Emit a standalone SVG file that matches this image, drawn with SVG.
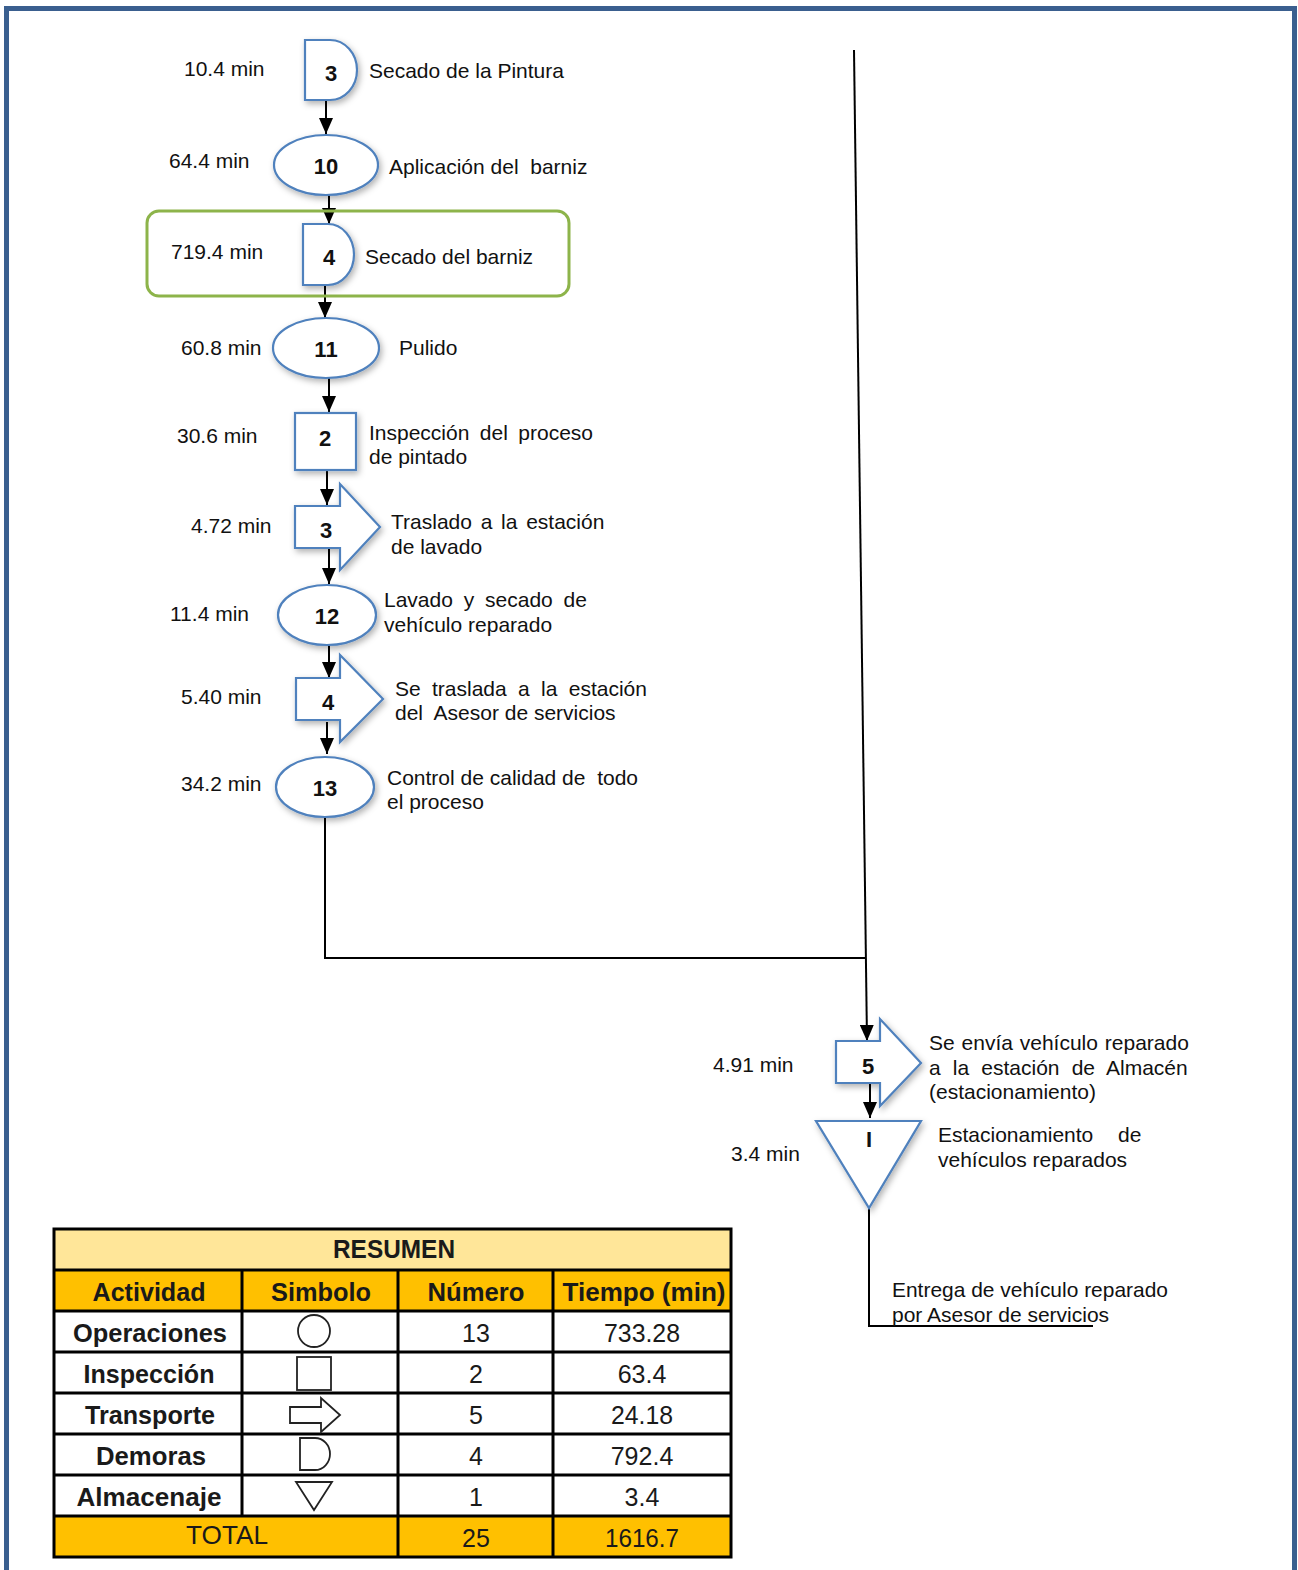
<svg xmlns="http://www.w3.org/2000/svg" width="1298" height="1570" viewBox="0 0 1298 1570">
<defs>
<style>
.t{font-family:"Liberation Sans",Arial,sans-serif;font-size:21px;fill:#111}
.n{font-family:"Liberation Sans",Arial,sans-serif;font-size:22px;font-weight:bold;fill:#111;text-anchor:middle}
.sh{fill:#fff;stroke:#4f81bd;stroke-width:2.2;filter:url(#ds)}
.c{fill:none;stroke:#000;stroke-width:2}
.tb{font-family:"Liberation Sans Narrow","Liberation Sans",Arial,sans-serif;font-size:25px;fill:#1a1a1a;text-anchor:middle}
.b{font-weight:bold}
.gl{fill:none;stroke:#000;stroke-width:3}
.sy{fill:none;stroke:#222;stroke-width:1.8}
</style>
<filter id="ds" x="-30%" y="-30%" width="160%" height="160%">
<feDropShadow dx="2" dy="3" stdDeviation="3" flood-color="#000" flood-opacity="0.3"/>
</filter>
<marker id="ah" markerUnits="userSpaceOnUse" markerWidth="16" markerHeight="14" refX="16" refY="7" orient="auto">
<path d="M0,0 L16,7 L0,14 z" fill="#000"/>
</marker>
</defs>
<rect width="1298" height="1570" fill="#fff"/>
<path d="M6.5,1570 V8.5 H1294.5 V1570" fill="none" stroke="#3a5f8f" stroke-width="5"/>

<g id="connectors">
<line class="c" x1="326" y1="100" x2="326" y2="134" marker-end="url(#ah)"/>
<line class="c" x1="329" y1="195" x2="329" y2="224" marker-end="url(#ah)"/>
<line class="c" x1="325" y1="285" x2="325" y2="318" marker-end="url(#ah)"/>
<line class="c" x1="329" y1="378" x2="329" y2="412" marker-end="url(#ah)"/>
<line class="c" x1="327" y1="470" x2="327" y2="505" marker-end="url(#ah)"/>
<line class="c" x1="329" y1="548" x2="329" y2="584" marker-end="url(#ah)"/>
<line class="c" x1="329" y1="645" x2="329" y2="678" marker-end="url(#ah)"/>
<line class="c" x1="327" y1="722" x2="327" y2="754" marker-end="url(#ah)"/>
<polyline class="c" points="325,817 325,958 865,958"/>
<line class="c" x1="854" y1="50" x2="867" y2="1041" marker-end="url(#ah)"/>
<line class="c" x1="870" y1="1083" x2="870" y2="1118" marker-end="url(#ah)"/>
<polyline class="c" points="869,1208 869,1326 1093,1326"/>
</g>

<g id="green-highlight">
<rect x="147" y="211" width="422" height="85" rx="12" fill="none" stroke="#8db44a" stroke-width="3"/>
</g>

<g id="delay3">
<path class="sh" d="M305,40 H330 A27,30 0 0 1 330,100 H305 Z"/>
<text class="n" x="331" y="81">3</text>
<text class="t" x="184" y="76">10.4 min</text>
<text class="t" x="369" y="78">Secado de la Pintura</text>
</g>

<g id="op10">
<ellipse class="sh" cx="326" cy="165" rx="52" ry="30"/>
<text class="n" x="326" y="174">10</text>
<text class="t" x="169" y="168">64.4 min</text>
<text class="t" x="389" y="174" xml:space="preserve">Aplicación del  barniz</text>
</g>

<g id="delay4">
<path class="sh" d="M303,224 H328 A26,30.5 0 0 1 328,285 H303 Z"/>
<text class="n" x="329" y="265">4</text>
<text class="t" x="171" y="259">719.4 min</text>
<text class="t" x="365" y="264">Secado del barniz</text>
</g>

<g id="op11">
<ellipse class="sh" cx="326" cy="348" rx="53" ry="30"/>
<text class="n" x="326" y="357">11</text>
<text class="t" x="181" y="355">60.8 min</text>
<text class="t" x="399" y="355">Pulido</text>
</g>

<g id="insp2">
<rect class="sh" x="295" y="413" width="61" height="57"/>
<text class="n" x="325" y="446">2</text>
<text class="t" x="177" y="443">30.6 min</text>
<text class="t" x="369" y="440" style="word-spacing:4.6px">Inspección del proceso</text>
<text class="t" x="369" y="464">de pintado</text>
</g>

<g id="trans3">
<path class="sh" d="M295,506 H340 V484 L380,527 L340,570 V548 H295 Z"/>
<text class="n" x="326" y="538">3</text>
<text class="t" x="191" y="533">4.72 min</text>
<text class="t" x="391" y="529" style="word-spacing:2.9px">Traslado a la estación</text>
<text class="t" x="391" y="554">de lavado</text>
</g>

<g id="op12">
<ellipse class="sh" cx="327" cy="615" rx="49" ry="30"/>
<text class="n" x="327" y="624">12</text>
<text class="t" x="170" y="621">11.4 min</text>
<text class="t" x="384" y="607" style="word-spacing:5px">Lavado y secado de</text>
<text class="t" x="384" y="632">vehículo reparado</text>
</g>

<g id="trans4">
<path class="sh" d="M296,678 H340 V655 L383,699 L340,742 V720 H296 Z"/>
<text class="n" x="328" y="710">4</text>
<text class="t" x="181" y="704">5.40 min</text>
<text class="t" x="395" y="696" style="word-spacing:5.5px">Se traslada a la estación</text>
<text class="t" x="395" y="720" xml:space="preserve">del  Asesor de servicios</text>
</g>

<g id="op13">
<ellipse class="sh" cx="325" cy="787" rx="49" ry="30"/>
<text class="n" x="325" y="796">13</text>
<text class="t" x="181" y="791">34.2 min</text>
<text class="t" x="387" y="785" xml:space="preserve">Control de calidad de  todo</text>
<text class="t" x="387" y="809">el proceso</text>
</g>

<g id="trans5">
<path class="sh" d="M836,1041 H880 V1019 L921,1063 L880,1106 V1083 H836 Z"/>
<text class="n" x="868" y="1074">5</text>
<text class="t" x="713" y="1072">4.91 min</text>
<text class="t" x="929" y="1050" style="word-spacing:1px">Se envía vehículo reparado</text>
<text class="t" x="929" y="1075" style="word-spacing:6.3px">a la estación de Almacén</text>
<text class="t" x="929" y="1099">(estacionamiento)</text>
</g>

<g id="storage1">
<path class="sh" d="M816,1121 H921 L869,1208 Z"/>
<text class="n" x="869" y="1147">I</text>
<text class="t" x="731" y="1161">3.4 min</text>
<text class="t" x="938" y="1142">Estacionamiento <tspan x="1118">de</tspan></text>
<text class="t" x="938" y="1167">vehículos reparados</text>
</g>

<g id="delivery">
<text class="t" x="892" y="1297" textLength="276" lengthAdjust="spacingAndGlyphs">Entrega de vehículo reparado</text>
<text class="t" x="892" y="1322">por Asesor de servicios</text>
</g>

<g id="summary-table">
<rect x="54" y="1229" width="677" height="41" fill="#ffe699"/>
<rect x="54" y="1270" width="677" height="41" fill="#ffc000"/>
<rect x="54" y="1311" width="677" height="205" fill="#fff"/>
<rect x="54" y="1516" width="677" height="41" fill="#ffc000"/>
<rect class="gl" x="54" y="1229" width="677" height="328"/>
<path class="gl" d="M54,1270 H731 M54,1311 H731 M54,1352 H731 M54,1393 H731 M54,1434 H731 M54,1475 H731 M54,1516 H731 M242,1270 V1516 M398,1270 V1557 M553,1270 V1557"/>
<text class="tb b" x="394" y="1258" textLength="122" lengthAdjust="spacingAndGlyphs">RESUMEN</text>
<text class="tb b" x="149" y="1301" textLength="113" lengthAdjust="spacingAndGlyphs">Actividad</text>
<text class="tb b" x="321" y="1301" textLength="100" lengthAdjust="spacingAndGlyphs">Simbolo</text>
<text class="tb b" x="476" y="1301" textLength="97" lengthAdjust="spacingAndGlyphs">Número</text>
<text class="tb b" x="644" y="1301" textLength="163" lengthAdjust="spacingAndGlyphs">Tiempo (min)</text>
<text class="tb b" x="150" y="1342" textLength="154" lengthAdjust="spacingAndGlyphs">Operaciones</text>
<text class="tb b" x="149" y="1383" textLength="131" lengthAdjust="spacingAndGlyphs">Inspección</text>
<text class="tb b" x="150" y="1424" textLength="130" lengthAdjust="spacingAndGlyphs">Transporte</text>
<text class="tb b" x="151" y="1465" textLength="110" lengthAdjust="spacingAndGlyphs">Demoras</text>
<text class="tb b" x="149" y="1506" textLength="145" lengthAdjust="spacingAndGlyphs">Almacenaje</text>
<text class="tb" x="476" y="1342">13</text>
<text class="tb" x="476" y="1383">2</text>
<text class="tb" x="476" y="1424">5</text>
<text class="tb" x="476" y="1465">4</text>
<text class="tb" x="476" y="1506">1</text>
<text class="tb" x="642" y="1342" textLength="76" lengthAdjust="spacingAndGlyphs">733.28</text>
<text class="tb" x="642" y="1383">63.4</text>
<text class="tb" x="642" y="1424" textLength="62" lengthAdjust="spacingAndGlyphs">24.18</text>
<text class="tb" x="642" y="1465">792.4</text>
<text class="tb" x="642" y="1506">3.4</text>
<text class="tb" x="227" y="1544" textLength="82" lengthAdjust="spacingAndGlyphs">TOTAL</text>
<text class="tb" x="476" y="1547">25</text>
<text class="tb" x="642" y="1547" textLength="74" lengthAdjust="spacingAndGlyphs">1616.7</text>
<circle class="sy" cx="314" cy="1331" r="16"/>
<rect class="sy" x="297" y="1357" width="34" height="33"/>
<path class="sy" d="M290,1407 H321 V1398 L340,1415 L321,1432 V1423 H290 Z"/>
<path class="sy" d="M300,1438 H315 A15,16 0 0 1 315,1470 H300 Z"/>
<path class="sy" d="M296,1482 H332 L314,1510 Z"/>
</g>
</svg>
